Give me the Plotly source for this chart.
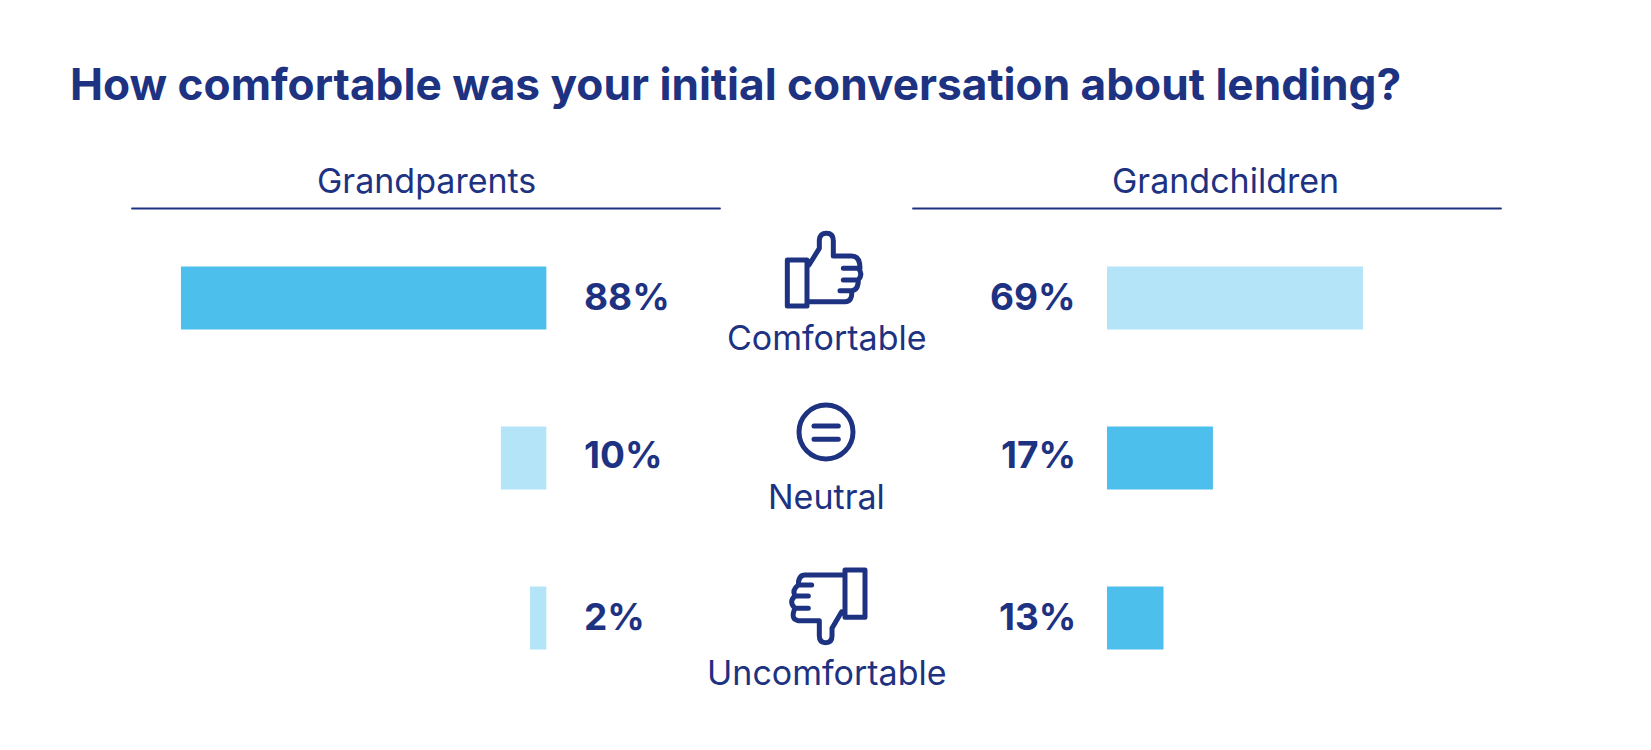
"""
Comfort of the first lending conversation, grandparents vs grandchildren.
"""

import plotly.graph_objects as go

WIDTH = 1651
HEIGHT = 750
NAVY = "#1e3282"
DARK_BAR = "#4dbfec"
LIGHT_BAR = "#b3e4f7"
FONT = "Inter"

title = "How comfortable was your initial conversation about lending?"
categories = ["Comfortable", "Neutral", "Uncomfortable"]
groups = ["Grandparents", "Grandchildren"]

# printed percentages
grandparents_labels = ["88%", "10%", "2%"]
grandchildren_labels = ["69%", "17%", "13%"]

# bar lengths as drawn, the original art is not proportional to its labels
grandparents_drawn = [88, 11, 4]
grandchildren_drawn = [61.6, 25.5, 13.6]
grandparents_colors = [DARK_BAR, LIGHT_BAR, LIGHT_BAR]
grandchildren_colors = [LIGHT_BAR, DARK_BAR, DARK_BAR]

PX_PER_UNIT = 4.155
ZERO_LEFT = 546.6
ZERO_RIGHT = 1107.0
LABEL_NUDGE = [2, 4, 2]


def px(x):
    return x / WIDTH


def py(y):
    return 1 - y / HEIGHT


fig = go.Figure()

fig.add_trace(go.Bar(
    y=categories, x=grandparents_drawn, orientation="h",
    marker=dict(color=grandparents_colors, line_width=0),
    xaxis="x", yaxis="y", name=groups[0], showlegend=False,
))
fig.add_trace(go.Bar(
    y=categories, x=grandchildren_drawn, orientation="h",
    marker=dict(color=grandchildren_colors, line_width=0),
    xaxis="x2", yaxis="y", name=groups[1], showlegend=False,
))

annotations = []
for cat, left, right, nudge in zip(categories, grandparents_labels, grandchildren_labels, LABEL_NUDGE):
    annotations.append(dict(
        x=0, y=cat, xref="x", yref="y", text=f"<b>{left}</b>", showarrow=False,
        xanchor="left", xshift=35, yshift=nudge, font=dict(size=37, color=NAVY, family=FONT),
    ))
    annotations.append(dict(
        x=0, y=cat, xref="x2", yref="y", text=f"<b>{right}</b>", showarrow=False,
        xanchor="right", xshift=-29, yshift=nudge, font=dict(size=37, color=NAVY, family=FONT),
    ))


def page_text(text, x, y, size, anchor="center"):
    """Text placed in page pixels."""
    return dict(
        x=px(x), y=py(y), xref="paper", yref="paper", text=text, showarrow=False,
        xanchor=anchor, yanchor="middle", font=dict(size=size, color=NAVY, family=FONT),
    )


annotations.append(page_text(f"<b>{title}</b>", 68, 84, 44.2, "left"))
annotations.append(page_text(groups[0], 426.5, 180, 34))
annotations.append(page_text(groups[1], 1225, 180, 34))
annotations.append(page_text(categories[0], 826.5, 337, 34))
annotations.append(page_text(categories[1], 826.5, 496, 34))
annotations.append(page_text(categories[2], 826.5, 672, 34))


def icon_path(points, ox, oy):
    out = []
    for tok in points.split():
        if "," in tok:
            zx, zy = tok.split(",")
            out.append(f"{px(ox + float(zx) / 3):.5f},{py(oy + float(zy) / 3):.5f}")
        else:
            out.append(tok)
    return " ".join(out)


thumb_up = (
    "M 447,195 L 478,145 L 478,120 Q 480,100 499,100 Q 520,100 520,122 L 520,168 L 575,168 "
    "Q 600,168 600,205 L 550,205 M 595,205 Q 610,222 595,240 L 550,240 M 595,240 Q 595,270 "
    "575,272 L 540,272 M 575,272 Q 578,305 555,305 L 445,305 "
    "M 382,180 L 441,180 L 441,318 L 382,318 Z"
)
thumb_down = (
    "M 550,135 L 435,135 Q 415,135 415,165 L 455,165 M 415,165 Q 395,180 405,198 L 445,198 "
    "M 405,198 Q 385,215 405,235 L 445,235 M 405,235 Q 390,268 415,272 L 478,272 L 478,318 "
    "Q 478,338 497,338 Q 516,338 516,318 L 516,295 L 545,245 L 555,245 "
    "M 555,120 L 615,120 L 615,262 L 555,262 Z"
)
neutral_bars = "M 462,168 L 535,168 M 462,208 L 535,208"

icon_line = dict(color=NAVY, width=5)
shapes = [
    dict(type="path", path=icon_path(thumb_up, 660, 200), xref="paper", yref="paper", line=icon_line),
    dict(type="path", path=icon_path(thumb_down, 660, 530), xref="paper", yref="paper", line=icon_line),
    dict(type="path", path=icon_path(neutral_bars, 660, 370), xref="paper", yref="paper", line=icon_line),
    dict(type="circle", x0=px(799), x1=px(853), y0=py(459), y1=py(405), xref="paper", yref="paper", line=icon_line),
    dict(type="line", x0=px(132), x1=px(720), y0=py(208.5), y1=py(208.5), xref="paper", yref="paper",
         line=dict(color=NAVY, width=1.8)),
    dict(type="line", x0=px(913), x1=px(1501), y0=py(208.5), y1=py(208.5), xref="paper", yref="paper",
         line=dict(color=NAVY, width=1.8)),
]

fig.update_layout(
    width=WIDTH,
    height=HEIGHT,
    margin=dict(l=0, r=0, t=0, b=0),
    paper_bgcolor="white",
    plot_bgcolor="white",
    bargap=0.606,
    barmode="overlay",
    xaxis=dict(domain=[0, ZERO_LEFT / WIDTH], range=[ZERO_LEFT / PX_PER_UNIT, 0], visible=False),
    xaxis2=dict(domain=[ZERO_RIGHT / WIDTH, 1], range=[0, (WIDTH - ZERO_RIGHT) / PX_PER_UNIT], visible=False),
    yaxis=dict(domain=[py(698), py(218)], range=[2.5, -0.5],
               categoryorder="array", categoryarray=categories, visible=False),
    annotations=annotations,
    shapes=shapes,
)

# the icons have rounded corners in the original, plotly shapes have no option for it
round_icons = """
document.body.style.margin = 0;
document.querySelectorAll('.shapelayer path').forEach(function (p) {
    p.style.strokeLinejoin = 'round';
    p.style.strokeLinecap = 'round';
});
"""
fig.write_html("out.html", config=dict(displayModeBar=False), post_script=round_icons)
